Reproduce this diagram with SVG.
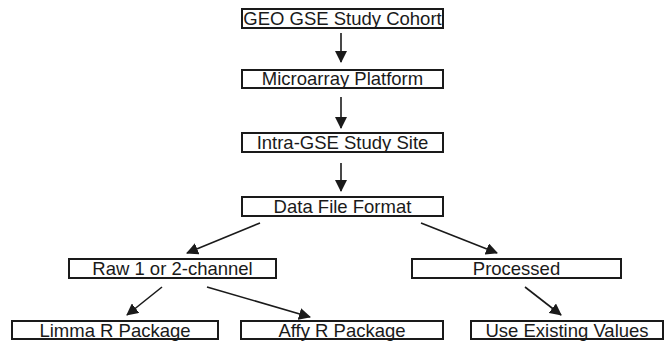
<svg xmlns="http://www.w3.org/2000/svg" width="670" height="341" viewBox="0 0 670 341">
<defs>
<style>
.box{fill:#fff;stroke:#1a1a1a;stroke-width:2}
.lbl{font-family:"Liberation Sans",Arial,sans-serif;font-size:18.5px;fill:#1a1a1a;text-anchor:middle}
.con{stroke:#1a1a1a;stroke-width:1.6;fill:none;marker-end:url(#ah)}
</style>
<marker id="ah" markerUnits="userSpaceOnUse" markerWidth="12" markerHeight="12" viewBox="0 0 12 12" refX="11" refY="6" orient="auto">
<path d="M0,0 L12,6 L0,12 Z" fill="#1a1a1a"/>
</marker>
</defs>
<rect width="670" height="341" fill="#fff"/>
<g id="connectors">
<line class="con" x1="341" y1="33" x2="341" y2="62"/>
<line class="con" x1="341" y1="97" x2="341" y2="128"/>
<line class="con" x1="341" y1="163" x2="341" y2="191"/>
<line class="con" x1="260" y1="223" x2="187" y2="253"/>
<line class="con" x1="421" y1="223" x2="497" y2="253"/>
<line class="con" x1="162" y1="287" x2="127" y2="315"/>
<line class="con" x1="207" y1="287" x2="310" y2="317"/>
<line class="con" x1="525" y1="287" x2="561" y2="315"/>
</g>
<g id="n1"><rect class="box" x="242" y="9" width="201" height="19"/><text class="lbl" x="342.5" y="25">GEO GSE Study Cohort</text></g>
<g id="n2"><rect class="box" x="242" y="70" width="201" height="18"/><text class="lbl" x="342.5" y="85">Microarray Platform</text></g>
<g id="n3"><rect class="box" x="242" y="133" width="201" height="19"/><text class="lbl" x="342.5" y="149">Intra-GSE Study Site</text></g>
<g id="n4"><rect class="box" x="242" y="197" width="201" height="19"/><text class="lbl" x="342.5" y="213">Data File Format</text></g>
<g id="n5"><rect class="box" x="69" y="259" width="207" height="19"/><text class="lbl" x="172.5" y="275">Raw 1 or 2-channel</text></g>
<g id="n6"><rect class="box" x="412" y="259" width="209" height="19"/><text class="lbl" x="516.5" y="275">Processed</text></g>
<g id="n7"><rect class="box" x="12" y="321" width="206" height="18"/><text class="lbl" x="115" y="337">Limma R Package</text></g>
<g id="n8"><rect class="box" x="241" y="321" width="202" height="18"/><text class="lbl" x="342" y="337">Affy R Package</text></g>
<g id="n9"><rect class="box" x="471" y="321" width="192" height="18"/><text class="lbl" x="567" y="337">Use Existing Values</text></g>
</svg>
